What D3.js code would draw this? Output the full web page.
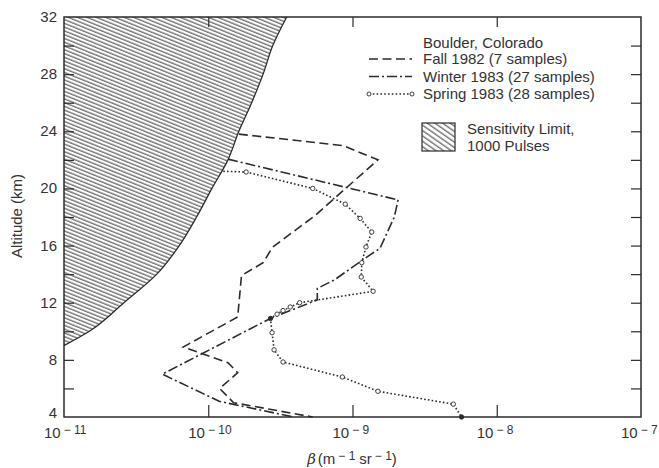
<!DOCTYPE html>
<html>
<head>
<meta charset="utf-8">
<script src="https://cdn.jsdelivr.net/npm/d3@7"></script>
<style>
  body { margin: 0; background: #fff; }
  svg { display: block; font-family: "Liberation Sans", Arial, sans-serif; }
</style>
</head>
<body>
<svg id="chart" width="659" height="468"></svg>
<script>
// Altitude (km) / backscatter beta (m^-1 sr^-1)
const limitAlt  = [9.0, 10, 12, 14, 16, 18, 20, 22, 24, 26, 28, 30, 32];
const limitBeta = [1.0e-11, 1.5e-11, 2.6e-11, 4.4e-11, 6.3e-11, 8.3e-11, 1.06e-10, 1.37e-10, 1.63e-10, 2.0e-10, 2.4e-10, 2.8e-10, 3.5e-10];

const fallAlt  = [23.8, 23.0, 22.0, 18.1, 15.9, 14.8, 13.9, 11.0, 8.9, 7.8, 7.1, 6.0, 5.0, 4.0];
const fallBeta = [1.63e-10, 8.6e-10, 1.5e-9, 5.5e-10, 2.8e-10, 2.4e-10, 1.7e-10, 1.6e-10, 6.7e-11, 1.37e-10, 1.6e-10, 1.2e-10, 1.5e-10, 5.3e-10];

const winterAlt  = [22.05, 19.2, 18.0, 15.8, 15.3, 13.6, 13.0, 12.2, 10.9, 7.0, 5.1, 4.0];
const winterBeta = [1.37e-10, 2.07e-9, 1.95e-9, 1.55e-9, 1.3e-9, 7.5e-10, 5.7e-10, 5.7e-10, 2.7e-10, 4.8e-11, 1.19e-10, 3.9e-10];

const springAlt  = [21.2, 21.15, 20.0, 18.9, 17.9, 16.95, 15.9, 14.8, 13.8, 12.8, 12.0, 11.7, 11.45, 11.2, 10.9, 9.9, 8.7, 7.85, 6.8, 5.8, 4.9, 4.0];
const springBeta = [1.27e-10, 1.83e-10, 5.3e-10, 8.9e-10, 1.13e-9, 1.36e-9, 1.24e-9, 1.16e-9, 1.15e-9, 1.39e-9, 4.3e-10, 3.7e-10, 3.3e-10, 3.0e-10, 2.7e-10, 2.77e-10, 2.86e-10, 3.3e-10, 8.5e-10, 1.5e-9, 5.0e-9, 5.7e-9];
const springFilled = [10.9, 4.0];

const xTicks = [1e-11, 1e-10, 1e-9, 1e-8, 1e-7];
const xTickExp = ["11", "10", "9", "8", "7"];
const yTicks = [4, 8, 12, 16, 20, 24, 28, 32];
const yMinorTicks = [6, 10, 14, 18, 22, 26, 30];

const legendLabels = ["Fall 1982 (7 samples)", "Winter 1983 (27 samples)", "Spring 1983 (28 samples)"];

const ink = "#2b2b2b";
const svg = d3.select("#chart");

const x = d3.scaleLog().domain([1e-11, 1e-7]).range([64, 641]);
const y = d3.scaleLinear().domain([4, 32]).range([417, 17]);

// hatch patterns
const defs = svg.append("defs");
defs.append("pattern")
    .attr("id", "hatch")
    .attr("patternUnits", "userSpaceOnUse")
    .attr("width", 4).attr("height", 3.5)
    .attr("patternTransform", "rotate(22)")
    .append("line")
    .attr("x1", 0).attr("x2", 4).attr("y1", 1).attr("y2", 1)
    .attr("stroke", "#3a3a3a").attr("stroke-width", 1);
defs.append("pattern")
    .attr("id", "hatchLegend")
    .attr("patternUnits", "userSpaceOnUse")
    .attr("width", 5).attr("height", 4.4)
    .attr("patternTransform", "rotate(35)")
    .append("line")
    .attr("x1", 0).attr("x2", 5).attr("y1", 1).attr("y2", 1)
    .attr("stroke", "#3a3a3a").attr("stroke-width", 1);

// sensitivity limit region
const limit = limitAlt.map((a, i) => ({ alt: a, beta: limitBeta[i] }));
const area = d3.area()
    .curve(d3.curveMonotoneY)
    .y(d => y(d.alt))
    .x0(x(1e-11))
    .x1(d => x(d.beta));
svg.append("path")
    .datum(limit)
    .attr("d", area)
    .attr("fill", "url(#hatch)");
svg.append("path")
    .datum(limit)
    .attr("d", d3.line().curve(d3.curveMonotoneY).x(d => x(d.beta)).y(d => y(d.alt)))
    .attr("fill", "none")
    .attr("stroke", ink)
    .attr("stroke-width", 1.3);

// frame
svg.append("rect")
    .attr("x", x(1e-11)).attr("y", y(32))
    .attr("width", x(1e-7) - x(1e-11))
    .attr("height", y(4) - y(32))
    .attr("fill", "none")
    .attr("stroke", ink)
    .attr("stroke-width", 1.5);

// axes (ticks pointing inward)
const fmtNone = () => "";
svg.append("g")
    .attr("transform", `translate(0,${y(4)})`)
    .call(d3.axisTop(x).tickValues(xTicks.slice(1, 4)).tickSize(12).tickFormat(fmtNone));
svg.append("g")
    .attr("transform", `translate(0,${y(32)})`)
    .call(d3.axisBottom(x).tickValues(xTicks.slice(1, 4)).tickSize(10).tickFormat(fmtNone));
svg.append("g")
    .attr("transform", `translate(${x(1e-11)},0)`)
    .call(d3.axisRight(y).tickValues(yTicks.slice(1, 7).concat(yMinorTicks)).tickSize(10).tickFormat(fmtNone));
svg.append("g")
    .attr("transform", `translate(${x(1e-7)},0)`)
    .call(d3.axisLeft(y).tickValues(yTicks.slice(1, 7).concat(yMinorTicks)).tickSize(10).tickFormat(fmtNone));
svg.selectAll(".domain").remove();
svg.selectAll(".tick line").attr("stroke", ink).attr("stroke-width", 1.2);

// y tick labels (the bottom one sits a little higher)
svg.selectAll(".ylab")
    .data(yTicks)
    .enter().append("text")
    .attr("x", 57)
    .attr("y", d => y(d) + (d === 4 ? 1 : 5))
    .attr("text-anchor", "end")
    .attr("font-size", 15)
    .attr("fill", "#333")
    .text(d => d);

// x tick labels: 10 with superscript
const xl = svg.selectAll(".xlab")
    .data(xTicks)
    .enter().append("text")
    .attr("x", d => x(d) - 20)
    .attr("y", 438)
    .attr("font-size", 15)
    .attr("fill", "#333");
xl.append("tspan").text("10");
xl.append("tspan")
    .attr("dx", 3)
    .attr("dy", -4)
    .attr("font-size", 12)
    .text((d, i) => "\u2212 " + xTickExp[i]);

// axis titles
const xt = svg.append("text")
    .attr("x", 352)
    .attr("y", 464)
    .attr("text-anchor", "middle")
    .attr("font-size", 15)
    .attr("fill", "#333");
xt.append("tspan").attr("font-family", "DejaVu Serif, serif").attr("font-style", "italic").text("\u03b2");
xt.append("tspan").attr("dx", 2).text("(m");
xt.append("tspan").attr("dx", 3).attr("dy", -4).attr("font-size", 12).text("\u2212 1");
xt.append("tspan").attr("dx", 4).attr("dy", 4).text("sr");
xt.append("tspan").attr("dx", 3).attr("dy", -4).attr("font-size", 12).text("\u2212 1");
xt.append("tspan").attr("dy", 4).text(")");

svg.append("text")
    .attr("transform", `translate(22,216) rotate(-90)`)
    .attr("text-anchor", "middle")
    .attr("font-size", 15)
    .attr("fill", "#333")
    .text("Altitude (km)");

// profiles
const line = d3.line().x(d => x(d.beta)).y(d => y(d.alt));
const styles = [
    { alt: fallAlt, beta: fallBeta, dash: "9,4.5" },
    { alt: winterAlt, beta: winterBeta, dash: "10,3,2,3" },
    { alt: springAlt, beta: springBeta, dash: "1.6,2.2" }
];
styles.forEach(s => {
    const pts = s.alt.map((a, i) => ({ alt: a, beta: s.beta[i] }));
    svg.append("path")
        .datum(pts)
        .attr("d", line)
        .attr("fill", "none")
        .attr("stroke", ink)
        .attr("stroke-width", 1.6)
        .attr("stroke-dasharray", s.dash);
});

const springPts = springAlt.map((a, i) => ({ alt: a, beta: springBeta[i] })).slice(1);
svg.selectAll(".spring")
    .data(springPts)
    .enter().append("circle")
    .attr("cx", d => x(d.beta))
    .attr("cy", d => y(d.alt))
    .attr("r", 2.2)
    .attr("fill", d => springFilled.includes(d.alt) ? ink : "#fff")
    .attr("stroke", ink)
    .attr("stroke-width", 0.9);

// legend
const lg = svg.append("g");
lg.append("text")
    .attr("x", 423).attr("y", 48)
    .attr("font-size", 15).attr("fill", "#333")
    .text("Boulder, Colorado");
legendLabels.forEach((t, i) => {
    const ly = 59 + i * 17.5;
    lg.append("line")
        .attr("x1", 369).attr("x2", 412)
        .attr("y1", ly).attr("y2", ly)
        .attr("stroke", ink)
        .attr("stroke-width", 1.6)
        .attr("stroke-dasharray", styles[i].dash);
    if (i === 2) {
        [369, 412].forEach(cx => {
            lg.append("circle")
                .attr("cx", cx).attr("cy", ly).attr("r", 2)
                .attr("fill", "#fff").attr("stroke", ink).attr("stroke-width", 0.9);
        });
    }
    lg.append("text")
        .attr("x", 423).attr("y", ly + 5)
        .attr("font-size", 15).attr("fill", "#333")
        .text(t);
});
lg.append("rect")
    .attr("x", 422).attr("y", 123)
    .attr("width", 33).attr("height", 28)
    .attr("fill", "url(#hatchLegend)")
    .attr("stroke", ink)
    .attr("stroke-width", 1.2);
lg.append("text")
    .attr("x", 467).attr("y", 134)
    .attr("font-size", 15).attr("fill", "#333")
    .text("Sensitivity Limit,");
lg.append("text")
    .attr("x", 467).attr("y", 151)
    .attr("font-size", 15).attr("fill", "#333")
    .text("1000 Pulses");
</script>
</body>
</html>
